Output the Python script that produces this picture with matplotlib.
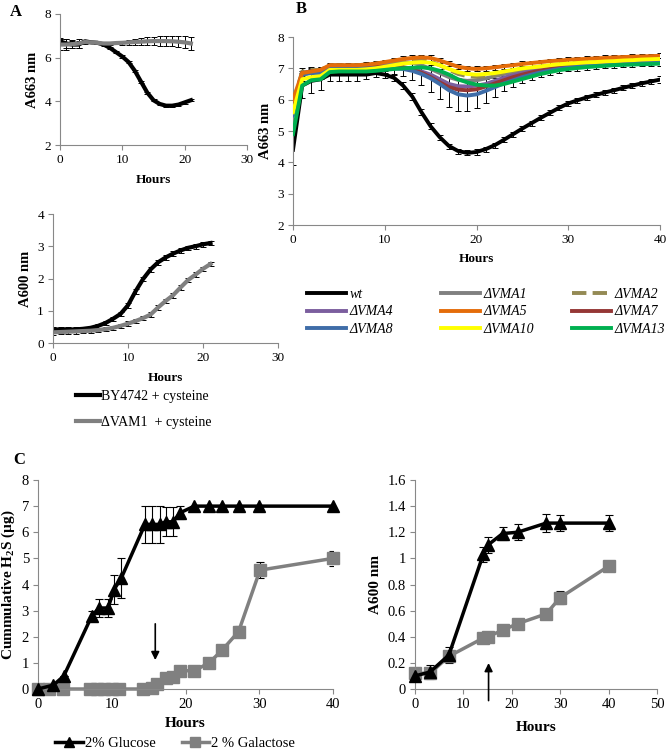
import matplotlib
matplotlib.use("Agg")
import matplotlib.pyplot as plt
from matplotlib.ticker import FormatStrFormatter, MultipleLocator
import numpy as np

plt.rcParams['font.family'] = ['Liberation Serif', 'DejaVu Serif']
plt.rcParams['mathtext.fontset'] = 'custom'
plt.rcParams['mathtext.rm'] = 'Liberation Serif'
plt.rcParams['mathtext.bf'] = 'Liberation Serif:bold'

# ---- panel A data (hourly readings, 0-21 h) ----
hours_a = list(range(22))
a663_wt = [6.75, 6.65, 6.6, 6.6, 6.75, 6.7, 6.68, 6.6, 6.45, 6.25, 6.05, 5.8, 5.4,
           4.9, 4.4, 4.05, 3.88, 3.8, 3.8, 3.85, 3.95, 4.05]
a663_wt_err = [0.15, 0.2, 0.15, 0.15, 0.05, 0.05, 0.05, 0.05, 0.05, 0.05, 0.05, 0.05,
               0.05, 0.05, 0.05, 0.05, 0.05, 0.05, 0.05, 0.05, 0.05, 0.05]
a663_vam = [6.6, 6.6, 6.62, 6.65, 6.72, 6.7, 6.68, 6.65, 6.65, 6.67, 6.68, 6.7, 6.72,
            6.73, 6.75, 6.76, 6.76, 6.76, 6.75, 6.73, 6.7, 6.65]
a663_vam_err = [0.25, 0.25, 0.2, 0.2, 0.1, 0.05, 0.05, 0.05, 0.05, 0.06, 0.08, 0.1,
                0.12, 0.15, 0.18, 0.2, 0.22, 0.22, 0.23, 0.25, 0.27, 0.3]
a600_wt = [0.42, 0.42, 0.42, 0.42, 0.44, 0.47, 0.53, 0.62, 0.75, 0.9, 1.17, 1.6, 1.98,
           2.28, 2.5, 2.65, 2.77, 2.87, 2.95, 3.0, 3.06, 3.1]
a600_vam = [0.33, 0.34, 0.35, 0.36, 0.37, 0.38, 0.4, 0.43, 0.47, 0.53, 0.6, 0.68, 0.77,
            0.88, 1.1, 1.3, 1.48, 1.72, 1.95, 2.12, 2.3, 2.45]
a600_err = 0.07

# ---- panel B data (hourly readings, 0-40 h) ----
hours_b = list(range(41))
b_wt = [4.4, 6.45, 6.6, 6.65, 6.8, 6.8, 6.8, 6.8, 6.8, 6.85, 6.8, 6.7, 6.45, 6.1, 5.6,
        5.15, 4.8, 4.52, 4.36, 4.3, 4.33, 4.42, 4.55, 4.72, 4.9, 5.08, 5.25, 5.42, 5.58,
        5.74, 5.88, 5.98, 6.07, 6.15, 6.23, 6.3, 6.38, 6.45, 6.52, 6.58, 6.64]
b_wt_err = [0.5, 0.4, 0.4, 0.35, 0.2, 0.2, 0.2, 0.2, 0.15, 0.12, 0.1, 0.1, 0.1, 0.1, 0.1,
            0.1, 0.08, 0.08, 0.08, 0.08, 0.08, 0.08, 0.08, 0.08, 0.08, 0.08, 0.08, 0.08,
            0.08, 0.08, 0.08, 0.08, 0.08, 0.08, 0.08, 0.08, 0.08, 0.08, 0.08, 0.08, 0.1]
b_vma1 = [5.8, 6.85, 6.9, 6.92, 7.08, 7.08, 7.08, 7.08, 7.1, 7.12, 7.15, 7.18, 7.2, 7.18,
          7.1, 6.98, 6.85, 6.72, 6.63, 6.6, 6.62, 6.68, 6.75, 6.82, 6.88, 6.94, 6.98,
          7.02, 7.06, 7.1, 7.13, 7.16, 7.18, 7.2, 7.22, 7.24, 7.25, 7.26, 7.27, 7.28, 7.3]
b_vma2 = [5.9, 6.9, 6.95, 6.95, 7.1, 7.1, 7.1, 7.1, 7.12, 7.15, 7.18, 7.22, 7.26, 7.28,
          7.28, 7.22, 7.1, 6.95, 6.82, 6.75, 6.73, 6.75, 6.8, 6.86, 6.92, 6.98, 7.02,
          7.06, 7.1, 7.13, 7.16, 7.19, 7.21, 7.23, 7.25, 7.27, 7.28, 7.3, 7.31, 7.32, 7.33]
b_vma4 = [5.6, 6.8, 6.88, 6.9, 7.08, 7.08, 7.08, 7.07, 7.06, 7.06, 7.06, 7.06, 7.04,
          6.98, 6.9, 6.8, 6.65, 6.5, 6.43, 6.42, 6.45, 6.5, 6.6, 6.7, 6.78, 6.85, 6.9,
          6.95, 7.0, 7.04, 7.07, 7.1, 7.12, 7.14, 7.16, 7.18, 7.19, 7.2, 7.21, 7.22, 7.23]
b_vma5 = [6.0, 6.85, 6.9, 6.95, 7.1, 7.1, 7.1, 7.1, 7.12, 7.15, 7.2, 7.25, 7.3, 7.33,
          7.35, 7.33, 7.25, 7.15, 7.05, 7.0, 6.98, 7.0, 7.03, 7.07, 7.1, 7.14, 7.17, 7.2,
          7.23, 7.25, 7.27, 7.29, 7.3, 7.32, 7.33, 7.35, 7.36, 7.37, 7.38, 7.39, 7.4]
b_vma7 = [5.7, 6.85, 6.9, 6.9, 7.05, 7.05, 7.05, 7.05, 7.05, 7.05, 7.05, 7.05, 7.03,
          6.96, 6.86, 6.72, 6.55, 6.4, 6.32, 6.3, 6.33, 6.42, 6.52, 6.62, 6.72, 6.8,
          6.87, 6.93, 6.98, 7.02, 7.06, 7.09, 7.11, 7.13, 7.15, 7.17, 7.18, 7.2, 7.21,
          7.22, 7.23]
b_vma8 = [5.5, 6.8, 6.85, 6.85, 7.05, 7.05, 7.05, 7.03, 7.0, 7.0, 7.0, 7.0, 6.98, 6.92,
          6.82, 6.68, 6.5, 6.3, 6.17, 6.13, 6.17, 6.28, 6.4, 6.52, 6.62, 6.72, 6.8, 6.87,
          6.93, 6.98, 7.02, 7.05, 7.08, 7.1, 7.12, 7.14, 7.15, 7.16, 7.18, 7.19, 7.2]
b_vma8_err = [0.3, 0.2, 0.2, 0.2, 0.1, 0.1, 0.1, 0.1, 0.1, 0.12, 0.15, 0.18, 0.22, 0.28,
              0.35, 0.42, 0.48, 0.52, 0.52, 0.5, 0.45, 0.38, 0.3, 0.25, 0.2, 0.18, 0.16,
              0.15, 0.14, 0.13, 0.12, 0.12, 0.12, 0.12, 0.12, 0.12, 0.12, 0.12, 0.12,
              0.12, 0.12]
b_vma10 = [5.6, 6.65, 6.72, 6.75, 6.95, 6.95, 6.95, 6.95, 6.97, 7.0, 7.05, 7.1, 7.15,
           7.18, 7.2, 7.18, 7.1, 6.98, 6.88, 6.82, 6.8, 6.82, 6.85, 6.9, 6.95, 7.0, 7.03,
           7.06, 7.1, 7.13, 7.15, 7.17, 7.19, 7.2, 7.22, 7.23, 7.25, 7.26, 7.28, 7.29, 7.3]
b_vma13 = [4.9, 6.45, 6.62, 6.65, 6.88, 6.9, 6.9, 6.9, 6.9, 6.92, 6.95, 6.98, 7.0, 7.02,
           7.03, 7.0, 6.92, 6.8, 6.65, 6.55, 6.48, 6.45, 6.45, 6.5, 6.58, 6.66, 6.74,
           6.82, 6.88, 6.94, 6.98, 7.01, 7.04, 7.06, 7.08, 7.1, 7.11, 7.12, 7.13, 7.14,
           7.15]

# ---- panel C data ----
glc_h2s_t = [0, 2.1, 3.5, 7.3, 8.3, 9.5, 10.3, 11.3, 14.5, 15.5, 16.5, 17.3, 18.3, 19.3,
             21.2, 23.2, 25, 27.2, 30, 40]
glc_h2s = [0, 0.15, 0.5, 2.8, 3.1, 3.1, 3.8, 4.25, 6.3, 6.3, 6.3, 6.4, 6.4, 6.75, 7.0,
           7.0, 7.0, 7.0, 7.0, 7.0]
glc_h2s_err = [0, 0, 0, 0.2, 0.35, 0.35, 0.55, 0.75, 0.7, 0.7, 0.7, 0.55, 0.55, 0.25, 0,
               0, 0, 0, 0, 0]
gal_h2s_t = [0, 1.5, 3.4, 7, 8, 9, 10, 11, 14.2, 15.4, 16.2, 17.3, 18.3, 19.3, 21.2, 23.2,
             25, 27.2, 30.1, 40]
gal_h2s = [0, 0, 0, 0, 0, 0, 0, 0, 0, 0.05, 0.2, 0.42, 0.45, 0.7, 0.7, 1.0, 1.5, 2.2,
           4.55, 5.0]
gal_h2s_err = [0, 0, 0, 0, 0, 0, 0, 0, 0, 0, 0, 0, 0, 0, 0, 0, 0, 0.2, 0.3, 0.3]

od_t = [0, 3.1, 7, 14.1, 15, 18.1, 21.2, 27.1, 30, 40]
glc_od = [0.1, 0.13, 0.26, 1.03, 1.1, 1.19, 1.2, 1.27, 1.27, 1.27]
glc_od_err = [0, 0.05, 0.06, 0.06, 0.06, 0.05, 0.06, 0.07, 0.06, 0.06]
gal_od = [0.12, 0.12, 0.25, 0.39, 0.4, 0.45, 0.5, 0.575, 0.7, 0.94]
gal_od_err = [0, 0, 0, 0, 0, 0, 0, 0, 0.05, 0]

GREY = '#888888'
LINEGREY = '#808080'
TICK = 9.5
LAB = 10.5


def style(ax, tick=TICK):
    for s in ['top', 'right']:
        ax.spines[s].set_visible(False)
    for s in ['left', 'bottom']:
        ax.spines[s].set_color(GREY)
        ax.spines[s].set_linewidth(0.8)
    ax.tick_params(direction='out', length=3.5, width=0.8, color=GREY,
                   labelsize=tick, pad=3)


W, H = 670, 750
fig = plt.figure(figsize=(6.7, 7.5), dpi=100)


def box(x0, x1, y0, y1):
    # pixel box -> figure fraction
    return [x0 / W, 1 - y1 / H, (x1 - x0) / W, (y1 - y0) / H]


# ---------------- A top ----------------
ax = fig.add_axes(box(60, 247, 14, 145))
style(ax)
ax.errorbar(hours_a, a663_wt, yerr=a663_wt_err, fmt='none', ecolor='black',
            elinewidth=0.7, capsize=2, capthick=0.7, zorder=1)
ax.plot(hours_a, a663_wt, color='black', lw=3, zorder=2)
ax.errorbar(hours_a, a663_vam, yerr=a663_vam_err, fmt='none', ecolor='black',
            elinewidth=0.7, capsize=2, capthick=0.7, zorder=1)
ax.plot(hours_a, a663_vam, color=LINEGREY, lw=3, zorder=3)
ax.set_xlim(0, 30)
ax.set_ylim(2, 8)
ax.xaxis.set_major_locator(MultipleLocator(10))
ax.set_xlabel('Hours', fontsize=LAB - 1, fontweight='bold', labelpad=6)
ax.set_ylabel('A663 nm', fontsize=LAB, fontweight='bold', labelpad=4)

# ---------------- A bottom ----------------
ax = fig.add_axes(box(53, 278, 214, 343))
style(ax)
ax.errorbar(hours_a, a600_wt, yerr=a600_err, fmt='none', ecolor='black',
            elinewidth=0.7, capsize=2, capthick=0.7, zorder=1)
l1, = ax.plot(hours_a, a600_wt, color='black', lw=3, zorder=2)
ax.errorbar(hours_a, a600_vam, yerr=a600_err, fmt='none', ecolor='black',
            elinewidth=0.7, capsize=2, capthick=0.7, zorder=1)
l2, = ax.plot(hours_a, a600_vam, color=LINEGREY, lw=3, zorder=3)
ax.set_xlim(0, 30)
ax.set_ylim(0, 4)
ax.xaxis.set_major_locator(MultipleLocator(10))
ax.set_xlabel('Hours', fontsize=LAB - 1, fontweight='bold', labelpad=6)
ax.set_ylabel('A600 nm', fontsize=LAB, fontweight='bold', labelpad=4)
fig.legend([l1, l2], ['BY4742 + cysteine', '\u0394VAM1  + cysteine'],
           loc='upper left', bbox_to_anchor=(76 / W, 1 - 390 / H), frameon=False,
           fontsize=LAB - 0.5, handlelength=1.7, handletextpad=0.1, labelspacing=0.95,
           borderaxespad=0, borderpad=0)

# ---------------- B ----------------
ax = fig.add_axes(box(293, 660, 37, 225))
style(ax)
ax.errorbar(hours_b, b_wt, yerr=b_wt_err, fmt='none', ecolor='black',
            elinewidth=0.7, capsize=2, capthick=0.7, zorder=1)
ax.errorbar(hours_b, b_vma8, yerr=b_vma8_err, fmt='none', ecolor='black',
            elinewidth=0.7, capsize=2, capthick=0.7, zorder=1)
ax.errorbar(hours_b, b_vma5, yerr=0.08, fmt='none', ecolor='black',
            elinewidth=0.7, capsize=2, capthick=0.7, zorder=1)
series = [
    ('wt', b_wt, 'black', '-'),
    ('\u0394VMA1', b_vma1, '#808080', '-'),
    ('\u0394VMA2', b_vma2, '#948A54', '--'),
    ('\u0394VMA4', b_vma4, '#7B5E9E', '-'),
    ('\u0394VMA7', b_vma7, '#953735', '-'),
    ('\u0394VMA8', b_vma8, '#3F6DA8', '-'),
    ('\u0394VMA5', b_vma5, '#E46C0A', '-'),
    ('\u0394VMA10', b_vma10, '#FFFF00', '-'),
    ('\u0394VMA13', b_vma13, '#00B050', '-'),
]
handles = {}
for z, (name, vals, col, ls) in enumerate(series):
    h, = ax.plot(hours_b, vals, color=col, lw=2.8, ls=ls, zorder=2 + z)
    handles[name] = h
ax.set_xlim(0, 40)
ax.set_ylim(2, 8)
ax.xaxis.set_major_locator(MultipleLocator(10))
ax.set_xlabel('Hours', fontsize=LAB - 1, fontweight='bold', labelpad=5)
ax.set_ylabel('A663 nm', fontsize=LAB, fontweight='bold', labelpad=4)
# one legend per column so each column starts where the original's does
columns = [(307, ['wt', '\u0394VMA4', '\u0394VMA8']),
           (441, ['\u0394VMA1', '\u0394VMA5', '\u0394VMA10']),
           (572, ['\u0394VMA2', '\u0394VMA7', '\u0394VMA13'])]
for xpix, names in columns:
    fig.legend([handles[k] for k in names], names, loc='upper left',
               bbox_to_anchor=(xpix / W, 1 - 288 / H), frameon=False,
               prop={'style': 'italic', 'size': LAB - 0.5}, handlelength=2.8,
               handletextpad=0.25, labelspacing=0.32,
               borderaxespad=0, borderpad=0)

# ---------------- C left ----------------
ax = fig.add_axes(box(38, 333, 480, 689))
style(ax, tick=10.5)
ax.errorbar(glc_h2s_t, glc_h2s, yerr=glc_h2s_err, fmt='none', ecolor='black',
            elinewidth=0.8, capsize=3, capthick=0.8, zorder=1)
ax.errorbar(gal_h2s_t, gal_h2s, yerr=gal_h2s_err, fmt='none', ecolor='black',
            elinewidth=0.8, capsize=3, capthick=0.8, zorder=1)
hg, = ax.plot(glc_h2s_t, glc_h2s, color='black', lw=2.5, marker='^', ms=8,
              zorder=3, clip_on=False)
hs, = ax.plot(gal_h2s_t, gal_h2s, color=LINEGREY, lw=2.5, marker='s', ms=8,
              zorder=2, clip_on=False)
ax.annotate('', xy=(15.9, 1.0), xytext=(15.9, 2.6),
            arrowprops=dict(arrowstyle='-|>', color='black', lw=1.2,
                            mutation_scale=12))
ax.set_xlim(0, 40)
ax.set_ylim(0, 8)
ax.xaxis.set_major_locator(MultipleLocator(10))
ax.yaxis.set_major_locator(MultipleLocator(1))
ax.set_xlabel('Hours', fontsize=11, fontweight='bold', labelpad=4)
ax.set_ylabel(r'Cummulative H$_\mathbf{2}$S (µg)', fontsize=11, fontweight='bold',
              labelpad=3)
fig.legend([hg, hs], ['2% Glucose', '2 % Galactose'], ncol=2, loc='lower center',
           bbox_to_anchor=(175 / W, 1 - 750 / H), frameon=False, fontsize=10.5,
           handlelength=1.9, handletextpad=0.1, columnspacing=1.8,
           markerscale=0.9, borderaxespad=0, borderpad=0)

# ---------------- C right ----------------
ax = fig.add_axes(box(415, 657, 480, 689))
style(ax, tick=10.5)
ax.errorbar(od_t, glc_od, yerr=glc_od_err, fmt='none', ecolor='black',
            elinewidth=0.8, capsize=3, capthick=0.8, zorder=1)
ax.errorbar(od_t, gal_od, yerr=gal_od_err, fmt='none', ecolor='black',
            elinewidth=0.8, capsize=3, capthick=0.8, zorder=1)
ax.plot(od_t, gal_od, color=LINEGREY, lw=2.5, marker='s', ms=8, zorder=2,
        clip_on=False)
ax.plot(od_t, glc_od, color='black', lw=2.5, marker='^', ms=8, zorder=3,
        clip_on=False)
ax.annotate('', xy=(15.2, 0.22), xytext=(15.2, -0.11),
            arrowprops=dict(arrowstyle='-|>', color='black', lw=1.2,
                            mutation_scale=12), annotation_clip=False)
ax.set_xlim(0, 50)
ax.set_ylim(0, 1.6)
ax.xaxis.set_major_locator(MultipleLocator(10))
ax.yaxis.set_major_locator(MultipleLocator(0.2))
ax.yaxis.set_major_formatter(FormatStrFormatter('%g'))
ax.set_xlabel('Hours', fontsize=11, fontweight='bold', labelpad=7)
ax.set_ylabel('A600 nm', fontsize=11, fontweight='bold')

# panel letters
fig.text(10 / W, 1 - 12 / H, 'A', fontsize=12, fontweight='bold', va='center')
fig.text(296 / W, 1 - 9 / H, 'B', fontsize=12, fontweight='bold', va='center')
fig.text(13 / W, 1 - 460 / H, 'C', fontsize=12, fontweight='bold', va='center')

fig.savefig('out.png', dpi=100, facecolor='white')
